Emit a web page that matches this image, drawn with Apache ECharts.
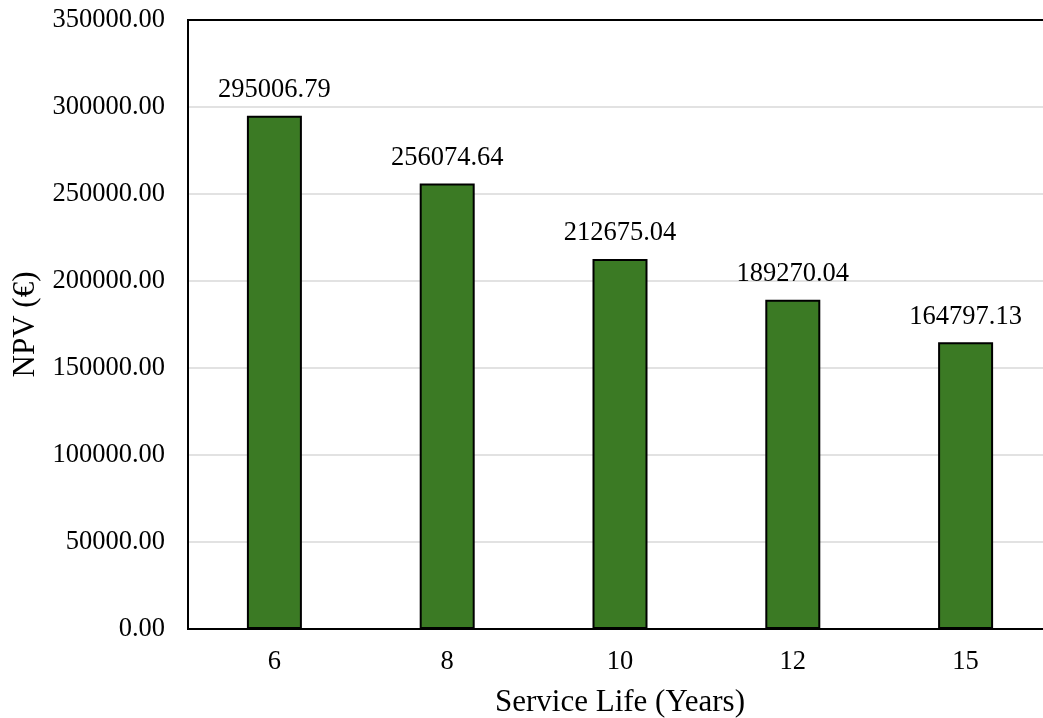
<!DOCTYPE html>
<html>
<head>
<meta charset="utf-8">
<script src="https://cdn.jsdelivr.net/npm/echarts@6/dist/echarts.min.js"></script>
<style>
  html, body { margin: 0; padding: 0; background: #ffffff; }
  #chart { width: 1043px; height: 718px; }
</style>
</head>
<body>
<div id="chart"></div>
<script>
// Net present value by service life
const serviceLife = ['6', '8', '10', '12', '15'];
const npvValues = [295006.79, 256074.64, 212675.04, 189270.04, 164797.13];
const yMin = 0;
const yMax = 350000;
const yStep = 50000;

const serif = 'Liberation Serif';

const chart = echarts.init(document.getElementById('chart'), null, { renderer: 'canvas' });

chart.setOption({
  animation: false,
  backgroundColor: '#ffffff',
  grid: {
    left: 188,
    top: 20,
    width: 864,
    height: 609,
    show: true,
    borderColor: '#000000',
    borderWidth: 2,
    containLabel: false,
    outerBoundsMode: 'none'
  },
  xAxis: {
    type: 'category',
    data: serviceLife,
    name: 'Service Life (Years)',
    nameLocation: 'middle',
    nameGap: 58,
    nameTextStyle: { fontFamily: serif, fontSize: 31, color: '#000000' },
    axisLine: { show: true, lineStyle: { color: '#000000', width: 2 } },
    axisTick: { show: false },
    axisLabel: { fontFamily: serif, fontSize: 26.5, color: '#000000', margin: 20 },
    splitLine: { show: false }
  },
  yAxis: {
    type: 'value',
    min: yMin,
    max: yMax,
    interval: yStep,
    name: 'NPV (€)',
    nameLocation: 'middle',
    nameGap: 146,
    nameRotate: 90,
    nameTextStyle: { fontFamily: serif, fontSize: 31, color: '#000000' },
    axisLine: { show: true, lineStyle: { color: '#000000', width: 2 } },
    axisTick: { show: false },
    axisLabel: {
      fontFamily: serif,
      fontSize: 26.5,
      color: '#000000',
      margin: 23,
      formatter: v => v.toFixed(2)
    },
    splitLine: { show: true, showMaxLine: false, lineStyle: { color: '#d9d9d9', width: 1.5 } }
  },
  series: [{
    type: 'bar',
    data: npvValues,
    barWidth: 55,
    itemStyle: { color: '#3b7a24', borderColor: '#000000', borderWidth: 2 },
    label: {
      show: true,
      position: 'top',
      distance: 12,
      fontFamily: serif,
      fontSize: 26.5,
      color: '#000000',
      formatter: p => p.value.toFixed(2)
    }
  }]
});
</script>
</body>
</html>
